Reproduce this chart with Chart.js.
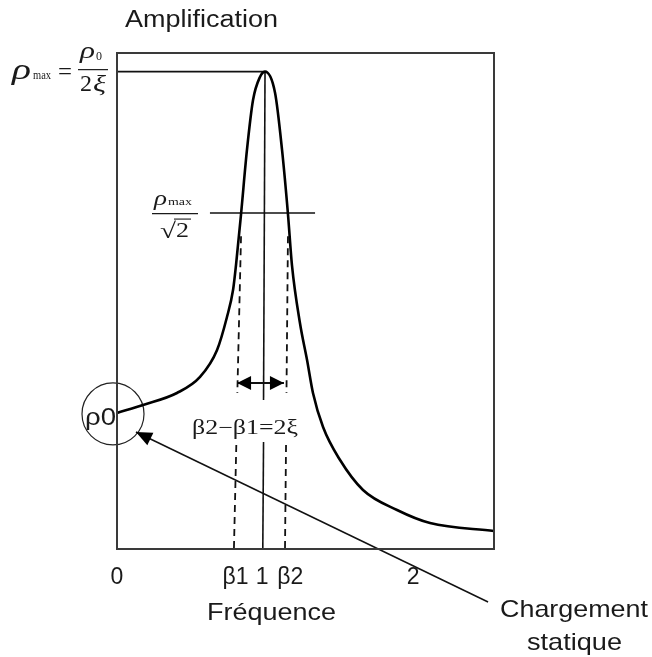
<!DOCTYPE html>
<html>
<head>
<meta charset="utf-8">
<script src="https://cdn.jsdelivr.net/npm/chart.js@4.4.1/dist/chart.umd.min.js"></script>
<style>
html,body{margin:0;padding:0;background:#fff;}
#wrap{width:652px;height:657px;position:relative;}
</style>
</head>
<body>
<div id="wrap"><canvas id="c" width="652" height="657"></canvas></div>
<script>
// ---- data ----
const freq = [0, 0.176, 0.405, 0.561, 0.676, 0.743, 0.784, 0.804, 0.838, 0.878, 0.919, 0.966, 1.0, 1.068, 1.115, 1.155, 1.182, 1.236, 1.284, 1.324, 1.392, 1.507, 1.662, 1.892, 2.115, 2.547];
const amplitude = [1.0, 1.059, 1.147, 1.265, 1.463, 1.706, 1.904, 2.088, 2.463, 2.934, 3.301, 3.471, 3.51, 3.353, 2.934, 2.463, 2.088, 1.662, 1.39, 1.147, 0.897, 0.654, 0.434, 0.287, 0.191, 0.132];
const rho0 = 0.993;
const rhoMax = 3.51;
const rhoHalf = 2.47;
const halfSpan = [0.628, 1.338];
const centerX = [1.0, 0.99, 0.99, 0.985];
const centerY = [3.51, 1.096, 0.787, 0];
const beta1X = [0.838, 0.813, 0.806, 0.790];
const beta2X = [1.155, 1.145, 1.142, 1.135];
const dashY = [2.30, 1.147, 0.765, 0];
const arrowSpan = [0.811, 1.128];
const arrowY = 1.22;
const tickValues = [0, 0.80, 0.98, 1.17, 2.0];
const tickLabels = ['0', 'β1', '1', 'β2', '2'];
const pointerFrom = [2.507, -0.39];
const pointerTo = [0.128, 0.86];
const circleAt = [-0.027, 0.993];
const xRange = [0, 2.547];
const yRange = [0, 3.647];

const pts = (xs, ys) => xs.map((x, i) => ({x: x, y: ys[i]}));
const seg = (d, w, dash) => ({type: 'scatter', data: d, showLine: true, pointRadius: 0, borderColor: '#111', borderWidth: w, borderDash: dash || [], clip: false, order: 2});

const datasets = [
  Object.assign(seg(pts(freq, amplitude), 2.6), {cubicInterpolationMode: 'monotone', borderColor: '#000', order: 1}),
  seg([{x: 0, y: rhoMax}, {x: centerX[0], y: rhoMax}], 1.6),
  seg([{x: halfSpan[0], y: rhoHalf}, {x: halfSpan[1], y: rhoHalf}], 1.6),
  seg(pts(centerX.slice(0, 2), centerY.slice(0, 2)), 1.6),
  seg(pts(centerX.slice(2), centerY.slice(2)), 1.6),
  seg(pts(beta1X.slice(0, 2), dashY.slice(0, 2)), 1.8, [7, 5]),
  seg(pts(beta1X.slice(2), dashY.slice(2)), 1.8, [7, 5]),
  seg(pts(beta2X.slice(0, 2), dashY.slice(0, 2)), 1.8, [7, 5]),
  seg(pts(beta2X.slice(2), dashY.slice(2)), 1.8, [7, 5]),
  seg([{x: arrowSpan[0], y: arrowY}, {x: arrowSpan[1], y: arrowY}], 2),
  seg([{x: pointerFrom[0], y: pointerFrom[1]}, {x: pointerTo[0], y: pointerTo[1]}], 1.5),
  {type: 'bubble', data: [{x: circleAt[0], y: circleAt[1], r: 31}], backgroundColor: 'rgba(0,0,0,0)', borderColor: '#222', borderWidth: 1.2, clip: false, order: 3}
];

function fitText(ctx, txt, x, y, font, width, align) {
  ctx.save();
  ctx.font = font;
  const w = ctx.measureText(txt).width;
  const sx = width ? width / w : 1;
  const realW = w * sx;
  let left = x;
  if (align === 'center') left = x - realW / 2;
  else if (align === 'right') left = x - realW;
  ctx.translate(left, y);
  ctx.scale(sx, 1);
  ctx.textAlign = 'left';
  ctx.textBaseline = 'alphabetic';
  ctx.fillStyle = '#1a1a1a';
  ctx.fillText(txt, 0, 0);
  ctx.restore();
}

function arrowHead(ctx, tx, ty, fx, fy, len, half) {
  const a = Math.atan2(ty - fy, tx - fx);
  ctx.save();
  ctx.fillStyle = '#000';
  ctx.beginPath();
  ctx.moveTo(tx, ty);
  ctx.lineTo(tx - len * Math.cos(a) + half * Math.sin(a), ty - len * Math.sin(a) - half * Math.cos(a));
  ctx.lineTo(tx - len * Math.cos(a) - half * Math.sin(a), ty - len * Math.sin(a) + half * Math.cos(a));
  ctx.closePath();
  ctx.fill();
  ctx.restore();
}

const decor = {
  id: 'decor',
  afterDatasetsDraw(chart) {
    const ctx = chart.ctx, xs = chart.scales.x, ys = chart.scales.y, a = chart.chartArea;
    // frame
    ctx.save();
    ctx.strokeStyle = '#3a3a3a';
    ctx.lineWidth = 2;
    ctx.strokeRect(a.left, a.top, a.right - a.left, a.bottom - a.top);
    ctx.restore();
    // arrows
    const ay = ys.getPixelForValue(arrowY);
    const ax0 = xs.getPixelForValue(arrowSpan[0]), ax1 = xs.getPixelForValue(arrowSpan[1]);
    arrowHead(ctx, ax0, ay, ax1, ay, 14, 7);
    arrowHead(ctx, ax1, ay, ax0, ay, 14, 7);
    const px0 = xs.getPixelForValue(pointerFrom[0]), py0 = ys.getPixelForValue(pointerFrom[1]);
    const px1 = xs.getPixelForValue(pointerTo[0]), py1 = ys.getPixelForValue(pointerTo[1]);
    arrowHead(ctx, px1, py1, px0, py0, 16, 7);

    const sans = '"Liberation Sans", Arial, sans-serif';
    const serif = '"Liberation Serif", "Times New Roman", serif';
    // title & axis texts
    fitText(ctx, 'Amplification', 201.5, 27, '23px ' + sans, 153, 'center');
    const tickBase = 584;
    tickLabels.forEach((t, i) => {
      fitText(ctx, t, xs.getPixelForValue(tickValues[i]), tickBase, '23px ' + sans, null, 'center');
    });
    fitText(ctx, 'Fréquence', 271.5, 620, '24px ' + sans, 129, 'center');
    fitText(ctx, 'Chargement', 500, 617, '24px ' + sans, 148, 'left');
    fitText(ctx, 'statique', 574.5, 650, '24px ' + sans, 95, 'center');

    // rho0 at axis
    const r0y = ys.getPixelForValue(rho0);
    fitText(ctx, 'ρ0', a.left - 1, r0y + 11, '23px ' + sans, 31, 'right');

    // rho max = rho0 / 2 xi
    const my = ys.getPixelForValue(rhoMax);
    fitText(ctx, 'ρ', 12, my + 7, 'italic 30px ' + serif, 19, 'left');
    fitText(ctx, 'max', 33, my + 7, '12px ' + serif, 18, 'left');
    fitText(ctx, '=', 58, my + 7, '24px ' + serif, 14, 'left');
    fitText(ctx, 'ρ', 80, my - 14, 'italic 23px ' + serif, 15, 'left');
    fitText(ctx, '0', 96, my - 12, '12px ' + serif, 6, 'left');
    ctx.save();
    ctx.strokeStyle = '#1a1a1a'; ctx.lineWidth = 1.2;
    ctx.beginPath(); ctx.moveTo(78, my - 2); ctx.lineTo(108, my - 2); ctx.stroke();
    ctx.restore();
    fitText(ctx, '2', 80, my + 19, '24px ' + serif, 12, 'left');
    fitText(ctx, 'ξ', 93, my + 19, 'italic 24px ' + serif, 13, 'left');

    // rho max / sqrt2
    const hy = ys.getPixelForValue(rhoHalf);
    fitText(ctx, 'ρ', 154, hy - 8, 'italic 21px ' + serif, 13, 'left');
    fitText(ctx, 'max', 168, hy - 8, '10px ' + serif, 24, 'left');
    ctx.save();
    ctx.strokeStyle = '#1a1a1a'; ctx.lineWidth = 1.2;
    ctx.beginPath(); ctx.moveTo(152, hy + 0.5); ctx.lineTo(198, hy + 0.5); ctx.stroke();
    ctx.restore();
    fitText(ctx, '√', 160, hy + 25, '22px ' + serif, 16, 'left');
    fitText(ctx, '2', 176, hy + 24, '22px ' + serif, 13, 'left');
    ctx.save();
    ctx.strokeStyle = '#1a1a1a'; ctx.lineWidth = 1.1;
    ctx.beginPath(); ctx.moveTo(174, hy + 6); ctx.lineTo(191, hy + 6); ctx.stroke();
    ctx.restore();

    // beta2 - beta1 = 2 xi
    fitText(ctx, 'β2−β1=2ξ', 245, 434, '20px ' + serif, 106, 'center');
  }
};

new Chart(document.getElementById('c'), {
  type: 'scatter',
  data: {datasets: datasets},
  options: {
    responsive: false,
    animation: false,
    layout: {padding: {left: 117, top: 53, right: 158, bottom: 108}},
    plugins: {legend: {display: false}, tooltip: {enabled: false}, title: {display: false}},
    scales: {
      x: {type: 'linear', min: xRange[0], max: xRange[1], display: false},
      y: {type: 'linear', min: yRange[0], max: yRange[1], display: false}
    },
    elements: {line: {tension: 0}}
  },
  plugins: [decor]
});
</script>
</body>
</html>
